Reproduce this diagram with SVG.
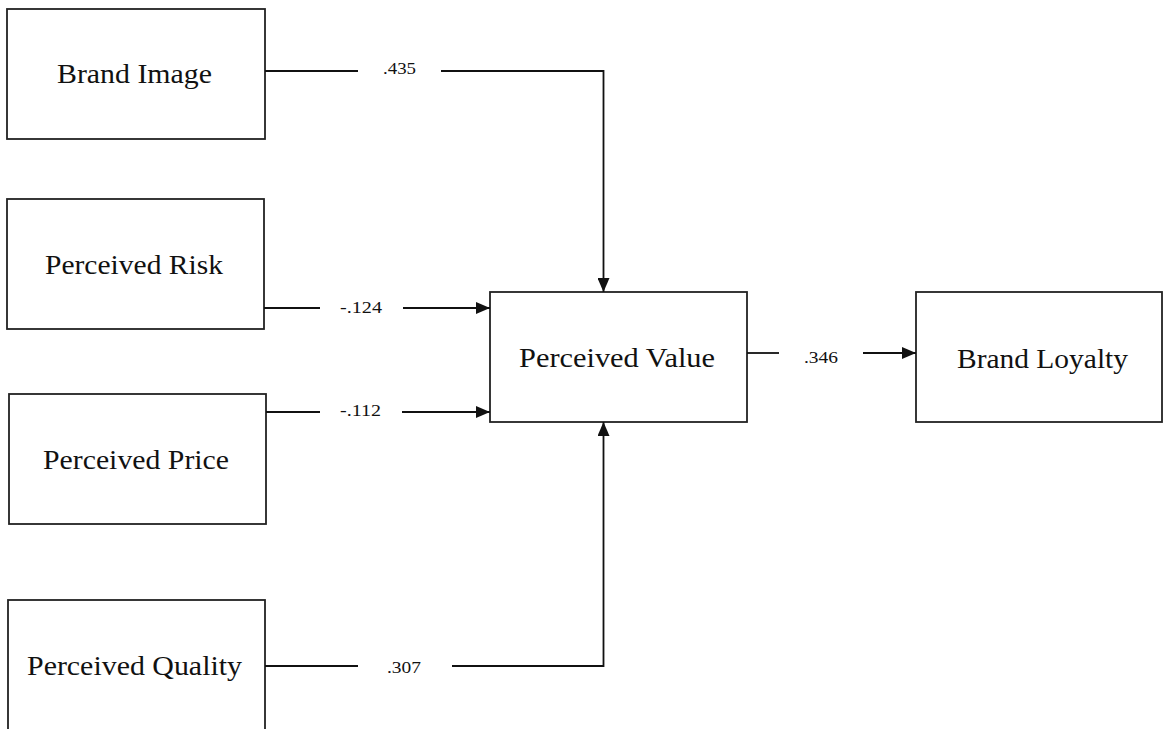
<svg xmlns="http://www.w3.org/2000/svg" width="1163" height="729" viewBox="0 0 1163 729">
<style>
.box{fill:#fff;stroke:#222;stroke-width:1.8}
.node{font-family:"Liberation Serif","Times New Roman",serif;font-size:27px;fill:#111;text-anchor:middle}
.lbl{font-family:"Liberation Serif","Times New Roman",serif;font-size:17.5px;fill:#111;text-anchor:middle}
.conn path{fill:none;stroke:#111;stroke-width:1.8}
</style>
<defs>
<marker id="arr" markerUnits="userSpaceOnUse" markerWidth="14" markerHeight="12" viewBox="0 0 14 12" refX="14" refY="6" orient="auto">
<path d="M0,0 L14,6 L0,12 z" fill="#111"/>
</marker>
</defs>
<rect width="1163" height="729" fill="#fff"/>
<g id="brand-image"><rect class="box" x="7" y="9" width="258" height="130"/><text class="node" x="134.5" y="83" textLength="155" lengthAdjust="spacingAndGlyphs">Brand Image</text></g>
<g id="perceived-risk"><rect class="box" x="7" y="199" width="257" height="130"/><text class="node" x="134" y="274" textLength="178" lengthAdjust="spacingAndGlyphs">Perceived Risk</text></g>
<g id="perceived-price"><rect class="box" x="9" y="394" width="257" height="130"/><text class="node" x="136" y="469" textLength="186" lengthAdjust="spacingAndGlyphs">Perceived Price</text></g>
<g id="perceived-quality"><rect class="box" x="8" y="600" width="257" height="140"/><text class="node" x="134.5" y="675" textLength="215" lengthAdjust="spacingAndGlyphs">Perceived Quality</text></g>
<g id="perceived-value"><rect class="box" x="490" y="292" width="257" height="130"/><text class="node" x="617" y="367" textLength="196" lengthAdjust="spacingAndGlyphs">Perceived Value</text></g>
<g id="brand-loyalty"><rect class="box" x="916" y="292" width="246" height="130"/><text class="node" x="1042.5" y="368" textLength="171" lengthAdjust="spacingAndGlyphs">Brand Loyalty</text></g>
<g id="connectors" class="conn">
<path d="M265,71 H358"/><path d="M441,71 H603.5 V292" marker-end="url(#arr)"/>
<path d="M264,308 H320"/><path d="M403,308 H490" marker-end="url(#arr)"/>
<path d="M266,412 H320"/><path d="M402,412 H490" marker-end="url(#arr)"/>
<path d="M265,666 H358"/><path d="M452,666 H603.5 V422" marker-end="url(#arr)"/>
<path d="M747,353 H779"/><path d="M863,353 H916" marker-end="url(#arr)"/>
<text class="lbl" x="399.5" y="74" textLength="33" lengthAdjust="spacingAndGlyphs">.435</text>
<text class="lbl" x="361" y="313" textLength="42" lengthAdjust="spacingAndGlyphs">-.124</text>
<text class="lbl" x="360.5" y="416" textLength="41" lengthAdjust="spacingAndGlyphs">-.112</text>
<text class="lbl" x="404" y="673" textLength="34" lengthAdjust="spacingAndGlyphs">.307</text>
<text class="lbl" x="821" y="363" textLength="34" lengthAdjust="spacingAndGlyphs">.346</text>
</g>
</svg>
